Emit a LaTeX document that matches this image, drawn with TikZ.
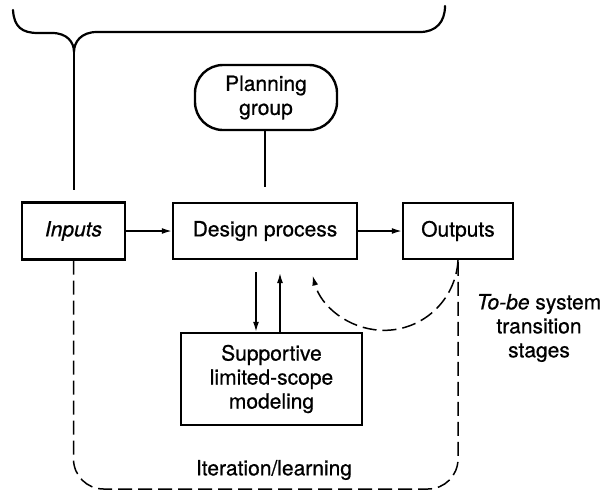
\documentclass[tikz,border=0pt]{standalone}
\usepackage{fontspec}
\setmainfont{TeX Gyre Heros}[FakeBold=0.7]
\usetikzlibrary{arrows.meta}
\begin{document}
\begin{tikzpicture}[x=1pt,y=1pt,
  every node/.style={font=\fontsize{21}{24}\selectfont},
  box/.style={draw, line width=2.4pt, inner sep=0pt, align=center},
  link/.style={line width=1.5pt},
  arr/.style={line width=1.5pt, -{Latex[length=10pt,width=6pt]}},
  loopline/.style={line width=1.5pt, dash pattern=on 14pt off 6pt},
  bracket/.style={line width=2.2pt, line cap=round}]
\useasboundingbox (0,0) rectangle (613,-499);

% boxes
\node[box, minimum width=103pt, minimum height=57pt] (inputs) at (73.5,-231) {\textit{Inputs}};
\node[box, minimum width=184pt, minimum height=56pt] (design) at (265,-231) {Design process};
\node[box, minimum width=110pt, minimum height=56pt] (outputs) at (458,-231) {Outputs};
\node[box, rounded corners=28pt, minimum width=142pt, minimum height=65pt] (planning) at (266,-97.5) {Planning\\group};
\node[box, minimum width=181pt, minimum height=92pt] (support) at (271.5,-379) {Supportive\\limited-scope\\modeling};

% labels
\node[align=center] (tobe) at (539,-328) {\textit{To-be} system\\transition\\stages};
\node (iter) at (274,-470) {Iteration/learning};

% bracket over the whole system
\coordinate (cusp) at (74,-52);
\draw[bracket] (13,-10) .. controls (14,-27) and (22,-33) .. (38,-33) -- (52,-33)
  .. controls (67,-33) and (74,-42) .. (cusp)
  .. controls (74,-42) and (81,-32) .. (97,-32) -- (420,-32)
  .. controls (436,-32) and (445,-22) .. (445,-6);
\coordinate (bend) at (74,-190);
\draw[link] (cusp) -- (bend);

% planning group link
\coordinate (pg) at (265,-187);
\draw[link] (planning.south -| pg) -- (pg);

% main flow
\draw[arr] (inputs) -- (design);
\draw[arr] (design) -- (outputs);

% exchange with the modeling box
\coordinate (dn) at (256,-272);
\coordinate (up) at (280,-273);
\draw[arr] (dn) -- (dn |- support.north);
\draw[arr] (up |- support.north) -- (up);

% transition stages feedback
\draw[loopline, -{Latex[length=10pt,width=6pt]}] (outputs.south) arc[start angle=-3, end angle=-165, radius=74pt];

% iteration loop
\coordinate (loop) at (0,-489);
\draw[loopline, rounded corners=30pt] (inputs.south) -- (inputs.south |- loop) -- (outputs.south |- loop) -- (outputs.south);
\end{tikzpicture}
\end{document}
